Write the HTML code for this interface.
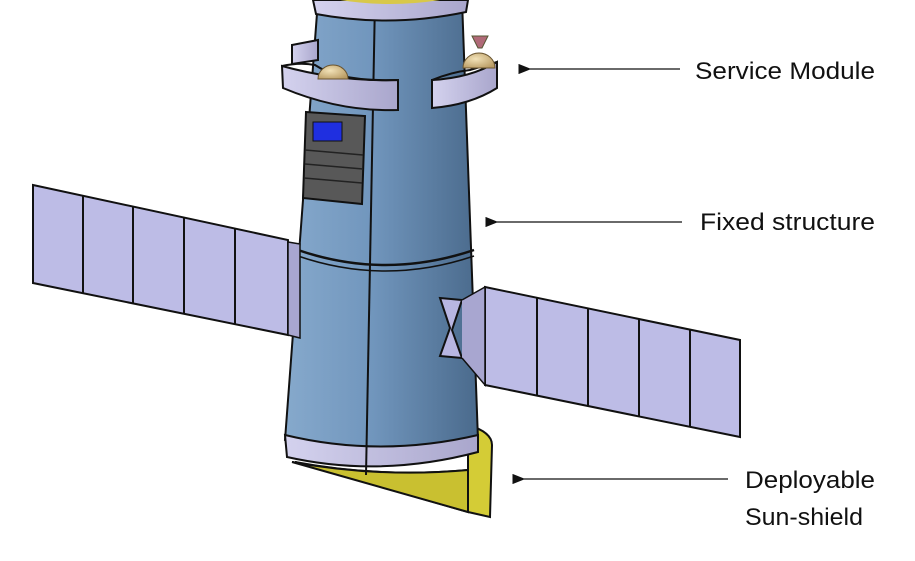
<!DOCTYPE html>
<html><head><meta charset="utf-8"><style>
html,body{margin:0;padding:0;background:#fff;}
svg{display:block;}
text{font-family:"Liberation Sans",sans-serif;font-size:24px;fill:#111;}
</style></head><body>
<svg width="915" height="561" viewBox="0 0 915 561" xmlns="http://www.w3.org/2000/svg">
<defs>
<linearGradient id="body" x1="0" x2="1" y1="0" y2="0">
<stop offset="0" stop-color="#86a9cc"/><stop offset="0.45" stop-color="#7196bd"/><stop offset="1" stop-color="#4a6a8c"/>
</linearGradient>
<linearGradient id="lav" x1="0" x2="1"><stop offset="0" stop-color="#d4d2ee"/><stop offset="1" stop-color="#a9a6cc"/></linearGradient>
<radialGradient id="dome" cx="0.4" cy="0.4" r="0.7"><stop offset="0" stop-color="#f2e2b8"/><stop offset="1" stop-color="#b89a62"/></radialGradient>
<marker id="ah" markerWidth="10" markerHeight="8" refX="1" refY="4" orient="auto"><path d="M10,0 L0,4 L10,8 Z" fill="#111"/></marker>
</defs>
<path d="M295,462 Q380,478 468,470 L468,425 Q492,432 492,445 L490,517 L468,512 Z" fill="#d4cc36" stroke="#111" stroke-width="2"/>
<path d="M292,462 L468,512 L468,470 Q380,478 292,462 Z" fill="#c9c030" stroke="#111" stroke-width="2"/>
<path d="M318,0 L462,0 L478,440 Q380,462 285,440 Z" fill="url(#body)" stroke="#111" stroke-width="2"/>
<path d="M285,435 Q380,458 478,435 L478,452 Q380,478 287,457 Z" fill="url(#lav)" stroke="#111" stroke-width="2"/>
<line x1="375" y1="0" x2="366" y2="475" stroke="#111" stroke-width="2"/>
<path d="M298,250 Q385,280 474,250" fill="none" stroke="#111" stroke-width="2.5"/>
<path d="M298,256 Q385,286 474,256" fill="none" stroke="#111" stroke-width="1.5"/>
<path d="M313,0 L468,0 L466,12 Q390,28 316,14 Z" fill="url(#lav)" stroke="#111" stroke-width="2"/>
<path d="M340,0 L440,0 Q390,8 340,0Z" fill="#d8c84a"/>
<path d="M292,45 L318,40 L318,60 L292,64 Z" fill="url(#lav)" stroke="#111" stroke-width="2"/>
<path d="M282,66 Q340,82 398,80 L398,110 Q340,112 283,88 Z" fill="url(#lav)" stroke="#111" stroke-width="2"/>
<path d="M282,66 Q300,62 315,65 Q340,82 398,80" fill="none" stroke="#111" stroke-width="2"/>
<path d="M432,80 Q470,78 497,62 L497,88 Q470,105 432,108 Z" fill="url(#lav)" stroke="#111" stroke-width="2"/>
<path d="M432,80 Q452,72 470,70 L497,62" fill="none" stroke="#111" stroke-width="2"/>
<path d="M318,79 A15,14 0 0 1 348,79 Z" fill="url(#dome)" stroke="#6a5530" stroke-width="1"/>
<path d="M463,68 A16,15 0 0 1 495,68 Z" fill="url(#dome)" stroke="#6a5530" stroke-width="1"/>
<path d="M472,36 L488,36 L482,48 L478,48 Z" fill="#b06a78" stroke="#553" stroke-width="1"/>
<path d="M306,112 L365,116 L362,204 L303,198 Z" fill="#585858" stroke="#111" stroke-width="2"/>
<rect x="313" y="122" width="29" height="19" fill="#1f2fe0" stroke="#111" stroke-width="1"/>
<g stroke="#222" stroke-width="1.5"><line x1="305" y1="150" x2="363" y2="155"/><line x1="305" y1="164" x2="363" y2="169"/><line x1="304" y1="178" x2="362" y2="183"/></g>
<path d="M33,185 L288,240 L288,335 L33,283 Z" fill="#bdbce6" stroke="#111" stroke-width="2"/>
<g stroke="#111" stroke-width="2"><line x1="83" y1="196" x2="83" y2="293"/><line x1="133" y1="207" x2="133" y2="304"/><line x1="184" y1="218" x2="184" y2="314"/><line x1="235" y1="229" x2="235" y2="324"/></g>
<path d="M288,242 L300,244 L300,338 L288,335 Z" fill="#a8a6d0" stroke="#111" stroke-width="1.5"/>
<path d="M485,287 L740,340 L740,437 L485,385 Z" fill="#bdbce6" stroke="#111" stroke-width="2"/>
<g stroke="#111" stroke-width="2"><line x1="537" y1="298" x2="537" y2="396"/><line x1="588" y1="308" x2="588" y2="406"/><line x1="639" y1="319" x2="639" y2="417"/><line x1="690" y1="330" x2="690" y2="427"/></g>
<path d="M440,298 L462,300 L452,330 L462,358 L440,356 L450,328 Z" fill="#b8b6e2" stroke="#111" stroke-width="2"/>
<path d="M462,300 L485,287 L485,385 L462,358" fill="#a8a6d0" stroke="#111" stroke-width="1.5"/>
<line x1="680" y1="69" x2="530" y2="69" stroke="#111" stroke-width="1.3" marker-end="url(#ah)"/>
<text x="695" y="79" textLength="180" lengthAdjust="spacingAndGlyphs">Service Module</text>
<line x1="682" y1="222" x2="497" y2="222" stroke="#111" stroke-width="1.3" marker-end="url(#ah)"/>
<text x="700" y="230" textLength="175" lengthAdjust="spacingAndGlyphs">Fixed structure</text>
<line x1="728" y1="479" x2="524" y2="479" stroke="#111" stroke-width="1.3" marker-end="url(#ah)"/>
<text x="745" y="488" textLength="130" lengthAdjust="spacingAndGlyphs">Deployable</text>
<text x="745" y="525" textLength="118" lengthAdjust="spacingAndGlyphs">Sun-shield</text>
</svg>
</body></html>
